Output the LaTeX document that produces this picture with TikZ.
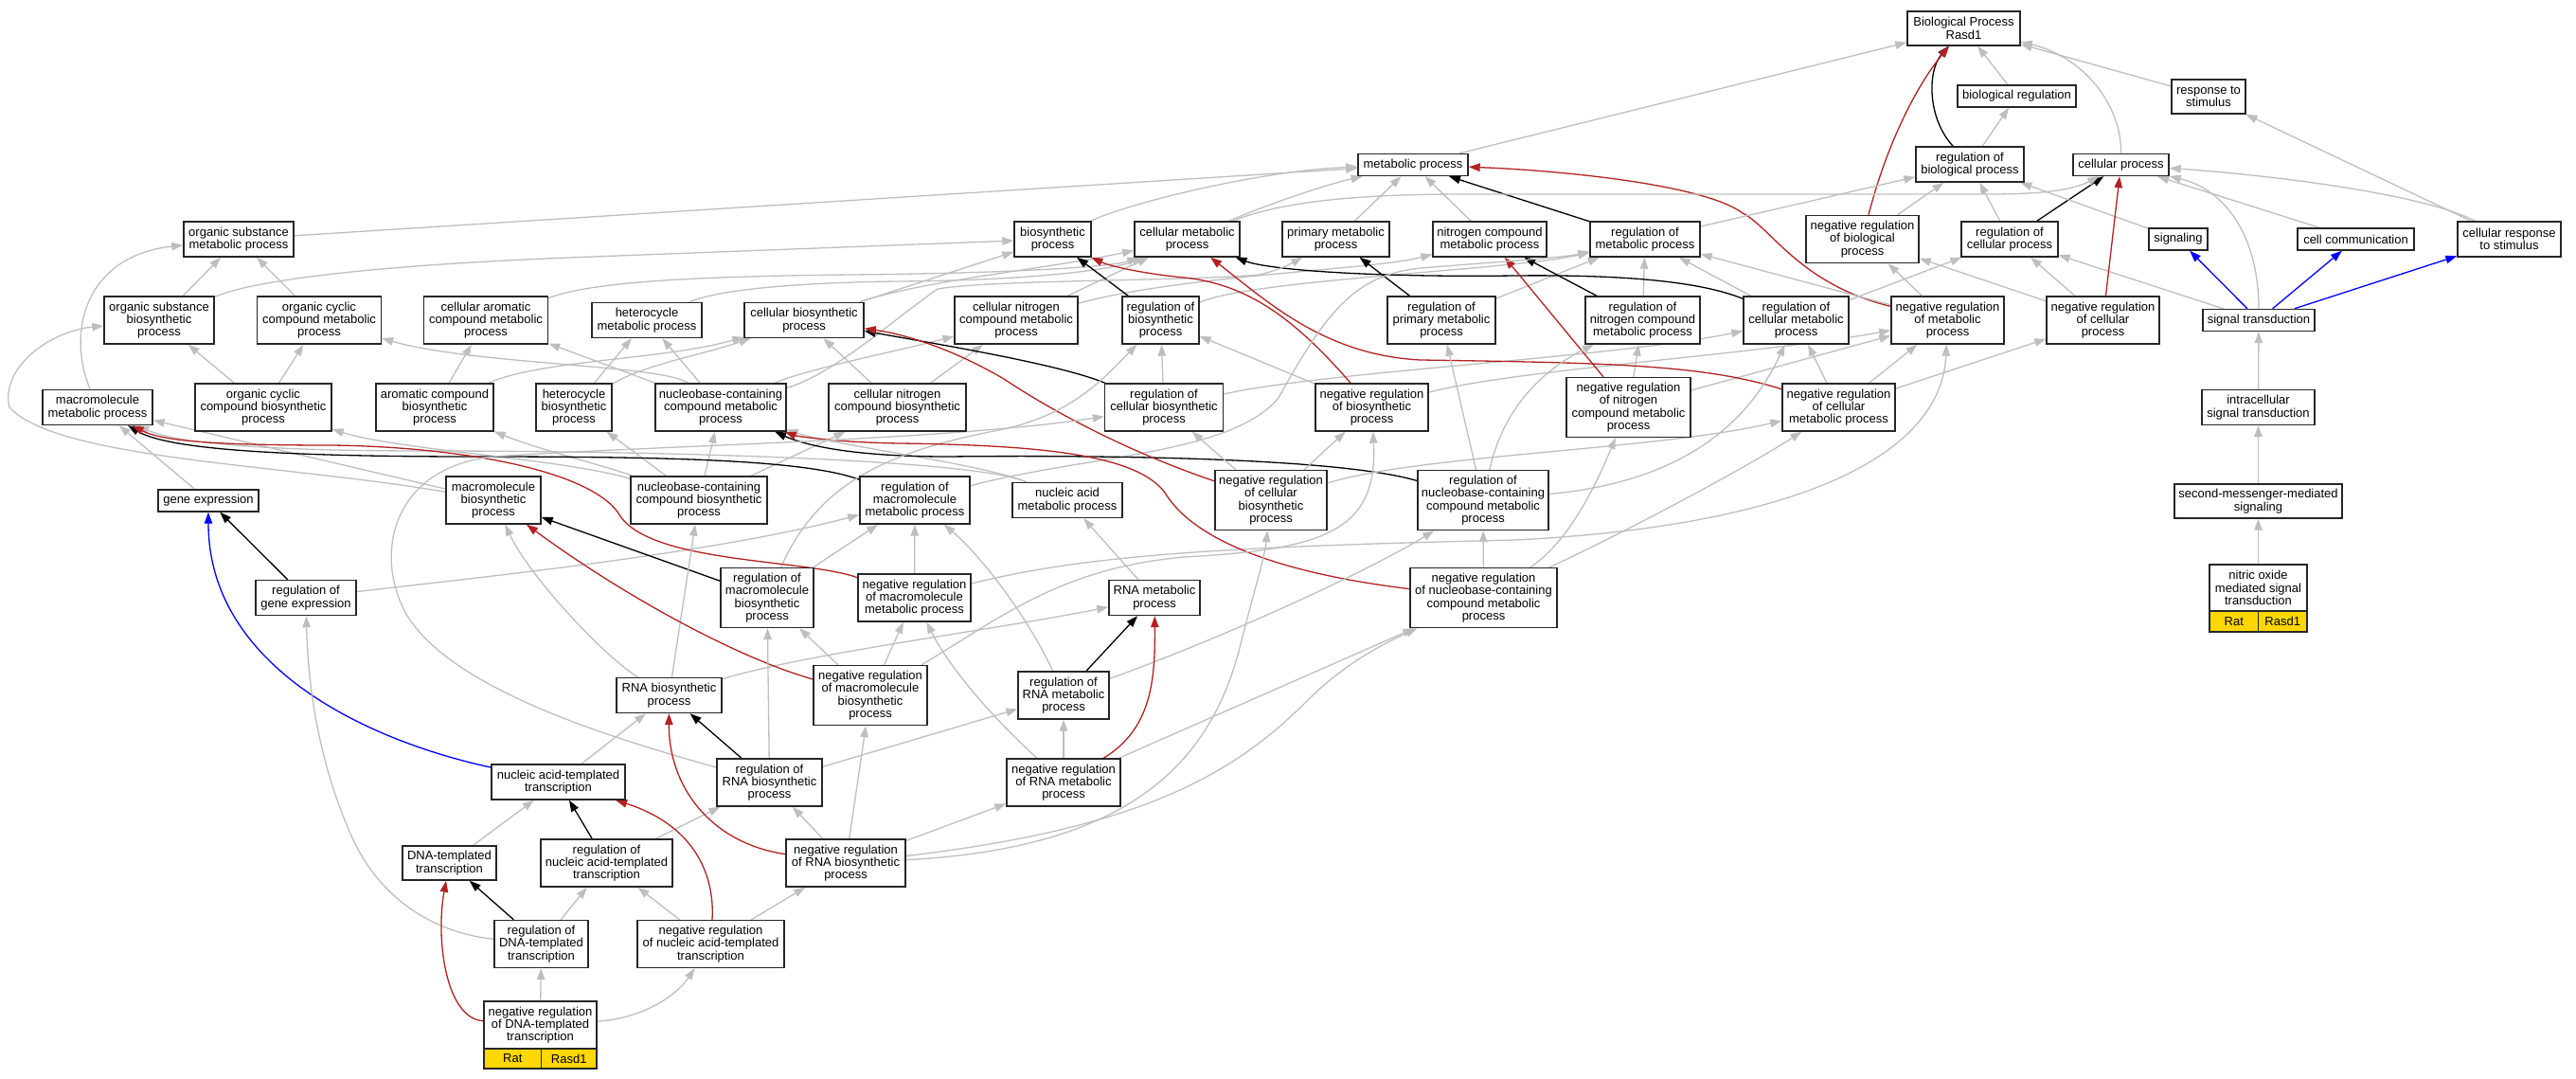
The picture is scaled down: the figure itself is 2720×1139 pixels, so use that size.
\documentclass[tikz,border=0pt]{standalone}
\usepackage{fontspec}
\setmainfont{Liberation Sans}
\usetikzlibrary{arrows.meta}
\definecolor{eg}{HTML}{BEBEBE}
\definecolor{er}{HTML}{B22222}
\definecolor{eb}{HTML}{0000FF}
\definecolor{goldrow}{HTML}{FFD700}
\pgfdeclarelayer{bg}
\pgfsetlayers{bg,main}
\tikzset{
 box/.style={draw=black!85, line width=1.4pt, fill=white, align=center, inner sep=0pt, font=\fontsize{13}{13.3}\selectfont},
 rowbox/.style={box, fill=goldrow},
 isa/.style={draw=eg, line width=1.3pt, -{Triangle[length=12pt,width=8.5pt]}},
 regk/.style={draw=black, line width=1.3pt, -{Triangle[length=12pt,width=8.5pt]}},
 negr/.style={draw=er, line width=1.3pt, -{Triangle[length=12pt,width=8.5pt]}},
 partb/.style={draw=eb, line width=1.3pt, -{Triangle[length=12pt,width=8.5pt]}}
}
\newcommand{\gonode}[6]{\node[box,minimum width=#4pt,minimum height=#5pt] (#1) at (#2,#3) {#6};}
\begin{document}
\begin{tikzpicture}[x=1pt,y=-1pt]
\useasboundingbox (0,0) rectangle (2720,1139);
% ---------- nodes ----------
\gonode{root}{2073.5}{30}{119}{36}{Biological Process\\Rasd1}
\gonode{biolreg}{2129.5}{101.5}{125}{23}{biological regulation}
\gonode{response}{2332}{102}{78}{36}{response to\\stimulus}
\gonode{metproc}{1492}{174}{116}{23}{metabolic process}
\gonode{regbiol}{2080}{173.5}{114}{37}{regulation of\\biological process}
\gonode{cellproc}{2239.5}{174}{101}{23}{cellular process}
\gonode{orgsubmet}{252}{252.5}{116}{37}{organic substance\\metabolic process}
\gonode{biosyn}{1111.5}{252.5}{81}{37}{biosynthetic\\process}
\gonode{cellmet}{1253.5}{252.5}{111}{37}{cellular metabolic\\process}
\gonode{primmet}{1410.5}{252.5}{113}{37}{primary metabolic\\process}
\gonode{nitmet}{1573}{252.5}{120}{37}{nitrogen compound\\metabolic process}
\gonode{regmet}{1737}{252.5}{116}{37}{regulation of\\metabolic process}
\gonode{negregbiol}{1966.5}{252.5}{119}{50}{negative regulation\\of biological\\process}
\gonode{regcellproc}{2122}{252.5}{102}{37}{regulation of\\cellular process}
\gonode{signaling}{2300}{252.5}{62}{23}{signaling}
\gonode{cellcomm}{2487.5}{252.5}{123}{23}{cell communication}
\gonode{cellresp}{2649.5}{252.5}{109}{37}{cellular response\\to stimulus}
\gonode{orgsubbio}{168}{338}{116}{50}{organic substance\\biosynthetic\\process}
\gonode{orgcycmet}{337}{338}{131}{50}{organic cyclic\\compound metabolic\\process}
\gonode{cellaromet}{513}{338}{131}{50}{cellular aromatic\\compound metabolic\\process}
\gonode{hetmet}{683}{338}{116}{37}{heterocycle\\metabolic process}
\gonode{cellbio}{849}{338}{126}{37}{cellular biosynthetic\\process}
\gonode{cellnitmet}{1073}{338}{130}{50}{cellular nitrogen\\compound metabolic\\process}
\gonode{regbio}{1225.5}{338}{81}{50}{regulation of\\biosynthetic\\process}
\gonode{regprimmet}{1522}{338}{114}{50}{regulation of\\primary metabolic\\process}
\gonode{regnitmet}{1734.5}{338}{121}{50}{regulation of\\nitrogen compound\\metabolic process}
\gonode{regcellmet}{1896.5}{338}{111}{50}{regulation of\\cellular metabolic\\process}
\gonode{negregmet}{2056.5}{338}{119}{50}{negative regulation\\of metabolic\\process}
\gonode{negregcellproc}{2220.5}{338}{119}{50}{negative regulation\\of cellular\\process}
\gonode{sigtrans}{2385}{338}{118}{23}{signal transduction}
\gonode{macmet}{103}{430}{116}{37}{macromolecule\\metabolic process}
\gonode{orgcycbio}{278}{430}{144}{50}{organic cyclic\\compound biosynthetic\\process}
\gonode{arobio}{459}{430}{124}{50}{aromatic compound\\biosynthetic\\process}
\gonode{hetbio}{606}{430}{80}{50}{heterocycle\\biosynthetic\\process}
\gonode{nucmet}{761}{430}{138}{50}{nucleobase-containing\\compound metabolic\\process}
\gonode{cellnitbio}{947.5}{430}{145}{50}{cellular nitrogen\\compound biosynthetic\\process}
\gonode{regcellbio}{1229}{430}{125}{50}{regulation of\\cellular biosynthetic\\process}
\gonode{negregbiosyn}{1448.5}{430}{119}{50}{negative regulation\\of biosynthetic\\process}
\gonode{negregnitmet}{1719.5}{430}{131}{63}{negative regulation\\of nitrogen\\compound metabolic\\process}
\gonode{negregcellmet}{1941.5}{430}{119}{50}{negative regulation\\of cellular\\metabolic process}
\gonode{intrasig}{2384.5}{430}{119}{37}{intracellular\\signal transduction}
\gonode{geneexp}{220}{528.5}{106}{23}{gene expression}
\gonode{macbio}{521}{528}{100}{50}{macromolecule\\biosynthetic\\process}
\gonode{nucbio}{738}{528}{144}{50}{nucleobase-containing\\compound biosynthetic\\process}
\gonode{regmacmet}{966}{528}{116}{50}{regulation of\\macromolecule\\metabolic process}
\gonode{nucacidmet}{1127}{528}{116}{37}{nucleic acid\\metabolic process}
\gonode{negregcellbio}{1342}{528}{118}{63}{negative regulation\\of cellular\\biosynthetic\\process}
\gonode{regnucmet}{1566}{528}{138}{63}{regulation of\\nucleobase-containing\\compound metabolic\\process}
\gonode{secmess}{2384.5}{529}{177}{36}{second-messenger-mediated\\signaling}
\gonode{reggeneexp}{323}{631}{106}{37}{regulation of\\gene expression}
\gonode{regmacbio}{810}{631}{98}{63}{regulation of\\macromolecule\\biosynthetic\\process}
\gonode{negregmacmet}{965.5}{631}{119}{50}{negative regulation\\of macromolecule\\metabolic process}
\gonode{rnamet}{1219}{631}{96}{37}{RNA metabolic\\process}
\gonode{negregnucmet}{1566.5}{631}{155}{63}{negative regulation\\of nucleobase-containing\\compound metabolic\\process}
\gonode{nitric}{2384.5}{620.5}{103}{49}{nitric oxide\\mediated signal\\transduction}
\node[rowbox,minimum width=51.5pt,minimum height=22pt] (nitricrat) at (2358.75,656) {Rat};
\node[rowbox,minimum width=51.5pt,minimum height=22pt] (nitricgene) at (2410.25,656) {Rasd1};
\gonode{rnabio}{706.5}{734}{111}{37}{RNA biosynthetic\\process}
\gonode{negregmacbio}{919}{734}{120}{63}{negative regulation\\of macromolecule\\biosynthetic\\process}
\gonode{regrnamet}{1123}{734}{96}{50}{regulation of\\RNA metabolic\\process}
\gonode{nucacidtx}{589.5}{825.5}{141}{37}{nucleic acid-templated\\transcription}
\gonode{regrnabio}{812.5}{826}{111}{50}{regulation of\\RNA biosynthetic\\process}
\gonode{negregrnamet}{1123}{826}{120}{50}{negative regulation\\of RNA metabolic\\process}
\gonode{dnatx}{474.5}{911}{99}{36}{DNA-templated\\transcription}
\gonode{regnucacidtx}{640.5}{911}{139}{50}{regulation of\\nucleic acid-templated\\transcription}
\gonode{negregrnabio}{893}{911}{126}{50}{negative regulation\\of RNA biosynthetic\\process}
\gonode{regdnatx}{571.5}{996.5}{99}{50}{regulation of\\DNA-templated\\transcription}
\gonode{negregnucacidtx}{750.5}{996.5}{155}{50}{negative regulation\\of nucleic acid-templated\\transcription}
\gonode{negregdnatx}{570.5}{1082}{119}{50}{negative regulation\\of DNA-templated\\transcription}
\node[rowbox,minimum width=60.5pt,minimum height=21pt] (dnarat) at (541.25,1117.5) {Rat};
\node[rowbox,minimum width=58.5pt,minimum height=21pt] (dnagene) at (600.75,1117.5) {Rasd1};
% ---------- edges ----------
\begin{pgfonlayer}{bg}
\draw[isa] (metproc) -- (root);
\draw[isa] (biolreg) -- (root);
\draw[regk] (regbiol) .. controls (2035,125) and (2035,75) .. (root);
\draw[negr] (negregbiol) .. controls (1990,160) and (2020,95) .. (root);
\draw[isa] (cellproc) .. controls (2240,110) and (2200,60) .. (root);
\draw[isa] (response) -- (root);
\draw[isa] (regbiol) -- (biolreg);
\draw[isa] (regcellproc) -- (regbiol);
\draw[regk] (regcellproc) -- (cellproc);
\draw[isa] (negregbiol) -- (regbiol);
\draw[isa] (signaling) -- (regbiol);
\draw[isa] (cellcomm) -- (cellproc);
\draw[isa] (cellresp) -- (response);
\draw[isa] (cellresp) .. controls (2560,205) and (2400,185) .. (cellproc);
\draw[partb] (sigtrans) -- (signaling);
\draw[partb] (sigtrans) -- (cellcomm);
\draw[partb] (sigtrans) -- (cellresp);
\draw[isa] (sigtrans) -- (regcellproc);
\draw[isa] (sigtrans) .. controls (2385,250) and (2350,200) .. (cellproc);
\draw[isa] (intrasig) -- (sigtrans);
\draw[isa] (secmess) -- (intrasig);
\draw[isa] (nitric) -- (secmess);
\draw[negr] (negregcellproc) -- (cellproc);
\draw[isa] (negregcellproc) -- (regcellproc);
\draw[isa] (negregcellproc) -- (negregbiol);
\draw[negr] (negregmet) .. controls (1900,300) and (1870,240) .. (1840,225) .. controls (1800,195) and (1650,180) .. (metproc);
\draw[isa] (negregmet) -- (regmet);
\draw[isa] (negregmet) -- (negregbiol);
\draw[regk] (regmet) -- (metproc);
\draw[isa] (regmet) -- (regbiol);
\draw[isa] (orgsubmet) -- (metproc);
\draw[isa] (biosyn) .. controls (1190,215) and (1330,180) .. (metproc);
\draw[isa] (cellmet) .. controls (1340,215) and (1400,195) .. (metproc);
\draw[isa] (cellmet) .. controls (1360,210) and (1450,205) .. (1550,205) -- (2100,205) .. controls (2160,205) and (2190,200) .. (cellproc);
\draw[isa] (primmet) -- (metproc);
\draw[isa] (nitmet) -- (metproc);
\draw[isa] (orgsubbio) -- (orgsubmet);
\draw[isa] (orgsubbio) .. controls (270,295) and (400,280) .. (600,272) -- (biosyn);
\draw[isa] (orgcycmet) -- (orgsubmet);
\draw[isa] (cellaromet) .. controls (620,300) and (700,292) .. (900,290) .. controls (1100,288) and (1180,280) .. (cellmet);
\draw[isa] (hetmet) .. controls (760,305) and (850,298) .. (950,297) .. controls (1100,296) and (1180,283) .. (cellmet);
\draw[isa] (cellbio) -- (biosyn);
\draw[isa] (cellbio) .. controls (980,295) and (1100,285) .. (cellmet);
\draw[isa] (cellnitmet) -- (cellmet);
\draw[isa] (cellnitmet) .. controls (1250,290) and (1450,285) .. (nitmet);
\draw[isa] (regbio) .. controls (1320,295) and (1600,285) .. (regmet);
\draw[regk] (regbio) -- (biosyn);
\draw[isa] (regprimmet) -- (regmet);
\draw[regk] (regprimmet) -- (primmet);
\draw[isa] (regnitmet) -- (regmet);
\draw[regk] (regnitmet) -- (nitmet);
\draw[isa] (regcellmet) -- (regmet);
\draw[isa] (regcellmet) -- (regcellproc);
\draw[regk] (regcellmet) .. controls (1790,295) and (1700,290) .. (1600,291) .. controls (1450,293) and (1340,285) .. (cellmet);
\draw[isa] (macmet) .. controls (70,350) and (90,270) .. (orgsubmet);
\draw[isa] (orgcycbio) -- (orgcycmet);
\draw[isa] (orgcycbio) -- (orgsubbio);
\draw[isa] (arobio) -- (cellaromet);
\draw[isa] (arobio) .. controls (570,380) and (700,380) .. (cellbio);
\draw[isa] (hetbio) -- (hetmet);
\draw[isa] (hetbio) .. controls (680,385) and (740,375) .. (cellbio);
\draw[isa] (nucmet) -- (cellaromet);
\draw[isa] (nucmet) -- (hetmet);
\draw[isa] (nucmet) .. controls (700,385) and (500,385) .. (orgcycmet);
\draw[isa] (nucmet) .. controls (850,390) and (950,370) .. (cellnitmet);
\draw[isa] (nucmet) .. controls (880,395) and (940,340) .. (990,305) .. controls (1050,295) and (1250,297) .. (1330,290) .. controls (1350,285) and (1360,280) .. (primmet);
\draw[isa] (cellnitbio) -- (cellnitmet);
\draw[isa] (cellnitbio) -- (cellbio);
\draw[isa] (regcellbio) -- (regbio);
\draw[isa] (regcellbio) .. controls (1400,392) and (1700,378) .. (regcellmet);
\draw[regk] (regcellbio) .. controls (1120,385) and (1000,365) .. (cellbio);
\draw[isa] (negregbiosyn) -- (regbio);
\draw[isa] (negregbiosyn) .. controls (1600,390) and (1850,375) .. (negregmet);
\draw[negr] (negregbiosyn) .. controls (1370,340) and (1320,300) .. (1250,293) .. controls (1200,288) and (1170,280) .. (biosyn);
\draw[isa] (negregnitmet) -- (regnitmet);
\draw[isa] (negregnitmet) -- (negregmet);
\draw[negr] (negregnitmet) -- (nitmet);
\draw[isa] (negregcellmet) -- (regcellmet);
\draw[isa] (negregcellmet) -- (negregmet);
\draw[isa] (negregcellmet) -- (negregcellproc);
\draw[negr] (negregcellmet) .. controls (1800,385) and (1700,383) .. (1500,380) .. controls (1400,375) and (1340,320) .. (cellmet);
\draw[isa] (geneexp) -- (macmet);
\draw[isa] (macbio) -- (macmet);
\draw[isa] (macbio) .. controls (300,490) and (60,485) .. (10,430) .. controls (0,390) and (50,350) .. (orgsubbio);
\draw[isa] (nucbio) -- (nucmet);
\draw[isa] (nucbio) .. controls (600,485) and (420,475) .. (orgcycbio);
\draw[isa] (nucbio) .. controls (640,492) and (570,475) .. (arobio);
\draw[isa] (nucbio) -- (hetbio);
\draw[isa] (nucbio) -- (cellnitbio);
\draw[isa] (regmacmet) .. controls (1150,480) and (1300,480) .. (1350,420) .. controls (1400,330) and (1430,290) .. (1500,283) .. controls (1600,275) and (1650,272) .. (regmet);
\draw[regk] (regmacmet) .. controls (850,485) and (700,482) .. (500,482) .. controls (250,482) and (170,470) .. (macmet);
\draw[isa] (nucacidmet) .. controls (1040,490) and (880,470) .. (nucmet);
\draw[isa] (nucacidmet) .. controls (1030,485) and (700,476) .. (450,476) .. controls (250,476) and (180,465) .. (macmet);
\draw[isa] (regnucmet) -- (regprimmet);
\draw[isa] (regnucmet) .. controls (1585,440) and (1620,395) .. (regnitmet);
\draw[isa] (regnucmet) .. controls (1760,510) and (1840,460) .. (regcellmet);
\draw[regk] (regnucmet) .. controls (1420,485) and (1200,480) .. (1000,482) .. controls (900,482) and (850,470) .. (nucmet);
\draw[isa] (negregcellbio) -- (regcellbio);
\draw[isa] (negregcellbio) -- (negregbiosyn);
\draw[negr] (negregcellbio) .. controls (1200,480) and (1120,440) .. (1060,400) .. controls (1000,365) and (950,352) .. (cellbio);
\draw[isa] (negregcellbio) .. controls (1500,480) and (1750,475) .. (negregcellmet);
\draw[regk] (reggeneexp) -- (geneexp);
\draw[isa] (reggeneexp) .. controls (500,610) and (750,585) .. (regmacmet);
\draw[isa] (regmacbio) -- (regmacmet);
\draw[regk] (regmacbio) -- (macbio);
\draw[isa] (regmacbio) .. controls (860,520) and (920,480) .. (1050,455) .. controls (1130,440) and (1165,400) .. (regbio);
\draw[isa] (negregmacmet) -- (regmacmet);
\draw[isa] (negregmacmet) .. controls (1150,585) and (1300,577) .. (1600,570) .. controls (1900,555) and (2050,480) .. (negregmet);
\draw[negr] (negregmacmet) .. controls (850,590) and (690,595) .. (655,545) .. controls (630,500) and (500,472) .. (350,470) .. controls (220,470) and (170,465) .. (macmet);
\draw[isa] (rnamet) -- (nucacidmet);
\draw[isa] (negregnucmet) -- (regnucmet);
\draw[isa] (negregnucmet) .. controls (1660,570) and (1690,500) .. (negregnitmet);
\draw[isa] (negregnucmet) .. controls (1720,560) and (1850,490) .. (negregcellmet);
\draw[negr] (negregnucmet) .. controls (1350,605) and (1260,570) .. (1230,520) .. controls (1200,480) and (1100,470) .. (950,468) .. controls (880,467) and (840,460) .. (nucmet);
\draw[isa] (rnabio) -- (nucbio);
\draw[isa] (rnabio) .. controls (850,690) and (1050,665) .. (rnamet);
\draw[isa] (rnabio) .. controls (640,695) and (560,610) .. (macbio);
\draw[isa] (negregmacbio) -- (regmacbio);
\draw[isa] (negregmacbio) -- (negregmacmet);
\draw[negr] (negregmacbio) .. controls (780,695) and (660,630) .. (macbio);
\draw[isa] (negregmacbio) .. controls (1060,650) and (1120,600) .. (1250,588) .. controls (1400,580) and (1455,560) .. (negregbiosyn);
\draw[regk] (regrnamet) -- (rnamet);
\draw[isa] (regrnamet) .. controls (1090,660) and (1040,590) .. (regmacmet);
\draw[isa] (regrnamet) .. controls (1300,670) and (1450,600) .. (regnucmet);
\draw[isa] (nucacidtx) -- (rnabio);
\draw[partb] (nucacidtx) .. controls (380,780) and (220,700) .. (geneexp);
\draw[isa] (dnatx) -- (nucacidtx);
\draw[regk] (regnucacidtx) -- (nucacidtx);
\draw[isa] (regnucacidtx) -- (regrnabio);
\draw[isa] (regrnabio) .. controls (650,780) and (480,730) .. (430,650) .. controls (395,590) and (410,495) .. (520,482) .. controls (700,470) and (1000,465) .. (regcellbio);
\draw[isa] (regrnabio) -- (regmacbio);
\draw[regk] (regrnabio) -- (rnabio);
\draw[isa] (regrnabio) -- (regrnamet);
\draw[isa] (negregrnamet) -- (regrnamet);
\draw[negr] (negregrnamet) .. controls (1215,770) and (1220,720) .. (rnamet);
\draw[isa] (negregrnamet) .. controls (1040,750) and (1000,700) .. (negregmacmet);
\draw[isa] (negregrnamet) -- (negregnucmet);
\draw[isa] (negregrnabio) -- (regrnabio);
\draw[negr] (negregrnabio) .. controls (750,890) and (706,830) .. (rnabio);
\draw[isa] (negregrnabio) -- (negregmacbio);
\draw[isa] (negregrnabio) -- (negregrnamet);
\draw[isa] (negregrnabio) .. controls (1200,895) and (1280,800) .. (1310,680) .. controls (1325,620) and (1335,590) .. (negregcellbio);
\draw[isa] (negregrnabio) .. controls (1200,875) and (1300,820) .. (1380,740) .. controls (1420,700) and (1460,680) .. (negregnucmet);
\draw[isa] (negregnucacidtx) -- (regnucacidtx);
\draw[negr] (negregnucacidtx) .. controls (755,920) and (730,870) .. (nucacidtx);
\draw[isa] (negregnucacidtx) -- (negregrnabio);
\draw[regk] (regdnatx) -- (dnatx);
\draw[isa] (regdnatx) -- (regnucacidtx);
\draw[isa] (regdnatx) .. controls (460,985) and (400,950) .. (370,880) .. controls (335,800) and (325,720) .. (reggeneexp);
\draw[negr] (negregdnatx) .. controls (470,1075) and (460,990) .. (dnatx);
\draw[isa] (negregdnatx) -- (regdnatx);
\draw[isa] (negregdnatx) .. controls (680,1075) and (715,1050) .. (negregnucacidtx);
\end{pgfonlayer}
\end{tikzpicture}
\end{document}
